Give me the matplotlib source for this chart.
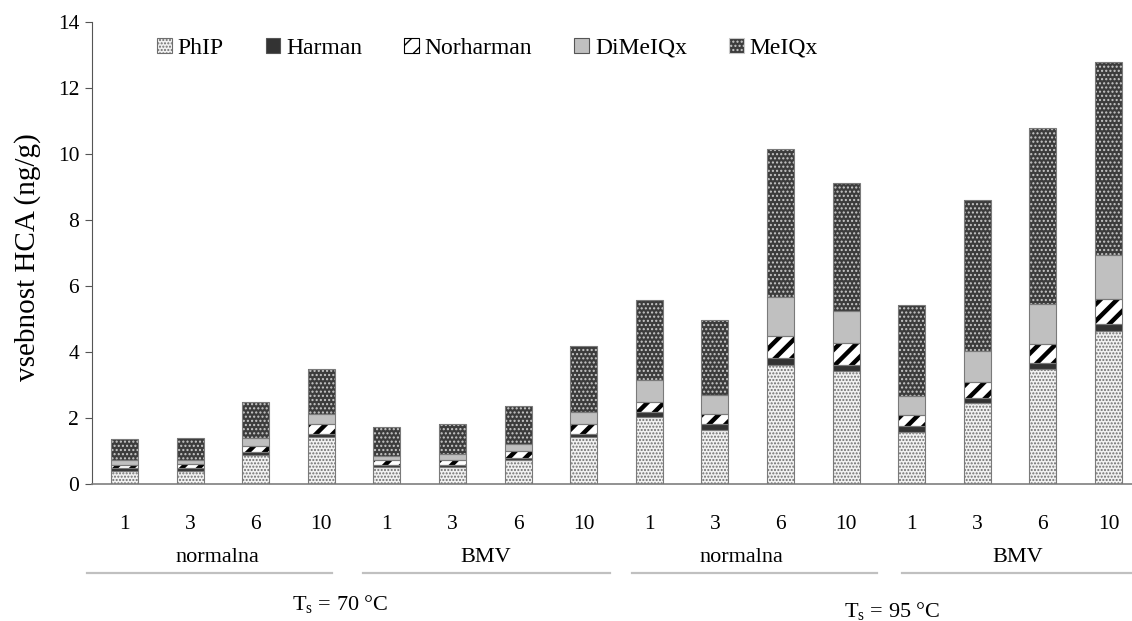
import matplotlib
matplotlib.use("Agg")
import matplotlib.pyplot as plt
import matplotlib.transforms as mtransforms
from matplotlib.patches import Rectangle
import numpy as np

# ---------------- data ----------------
time_labels = ["1", "3", "6", "10"] * 4
groups = ["normalna", "BMV", "normalna", "BMV"]
temps = ["T$_\\mathrm{s}$ = 70 °C", "T$_\\mathrm{s}$ = 95 °C"]
series_names = ["PhIP", "Harman", "Norharman", "DiMeIQx", "MeIQx"]

PhIP = [0.40, 0.40, 0.87, 1.42, 0.52, 0.52, 0.72, 1.42,
        2.02, 1.65, 3.62, 3.42, 1.59, 2.44, 3.48, 4.64]
Harman = [0.09, 0.09, 0.09, 0.09, 0.07, 0.05, 0.08, 0.10,
          0.15, 0.17, 0.20, 0.20, 0.17, 0.18, 0.20, 0.22]
Norharman = [0.10, 0.11, 0.19, 0.31, 0.13, 0.15, 0.19, 0.30,
             0.33, 0.30, 0.68, 0.64, 0.34, 0.47, 0.57, 0.74]
DiMeIQx = [0.13, 0.14, 0.25, 0.30, 0.13, 0.19, 0.23, 0.35,
           0.65, 0.57, 1.16, 0.97, 0.57, 0.94, 1.19, 1.34]
MeIQx = [0.65, 0.66, 1.09, 1.35, 0.88, 0.91, 1.14, 2.02,
         2.42, 2.27, 4.50, 3.90, 2.75, 4.57, 5.36, 5.86]

series = [PhIP, Harman, Norharman, DiMeIQx, MeIQx]

# ---------------- style ----------------
styles = [
    dict(face="#f2f2f2", hatch=".....", hcolor="#6e6e6e", hlw=1.0),
    dict(face="#333333", hatch=None, hcolor="#333333", hlw=1.0),
    dict(face="#ffffff", hatch="//", hcolor="#000000", hlw=3.2),
    dict(face="#c0c0c0", hatch=None, hcolor="#c0c0c0", hlw=1.0),
    dict(face="#3c3c3c", hatch="....", hcolor="#c8c8c8", hlw=1.0),
]

plt.rcParams["font.family"] = ["Liberation Serif", "DejaVu Serif"]
plt.rcParams["mathtext.fontset"] = "custom"
plt.rcParams["mathtext.rm"] = "Liberation Serif"
plt.rcParams["mathtext.it"] = "Liberation Serif:italic"

W, H = 1132, 621
fig = plt.figure(figsize=(W / 100, H / 100), dpi=100)

slot = 65.6
x0_px = 124.5 - slot / 2
zero_px = 484.0
top_px = 22.0
ax = fig.add_axes([x0_px / W, 1 - zero_px / H, 16 * slot / W, (zero_px - top_px) / H])

x = np.arange(len(PhIP))
width = 0.41
bottom = np.zeros(len(x))
for vals, st in zip(series, styles):
    vals = np.array(vals)
    plt.rcParams["hatch.linewidth"] = st["hlw"]
    bars = ax.bar(x, vals, width, bottom=bottom, color=st["face"],
                  edgecolor=st["hcolor"], linewidth=0, hatch=st["hatch"], zorder=2)
    for b in bars:
        if hasattr(b, "set_hatch_linewidth"):
            b.set_hatch_linewidth(st["hlw"])
    ax.bar(x, vals, width, bottom=bottom, fill=False, edgecolor="#7a7a7a",
           linewidth=0.8, zorder=3)
    bottom += vals

ax.set_xlim(-0.5, 15.5)
ax.set_ylim(0, 14)
ax.set_yticks(np.arange(0, 15, 2))
ax.tick_params(axis="y", direction="out", length=5, width=0.8, colors="#555555",
               labelcolor="black", labelsize=15.5, pad=4)
ax.set_xticks([])
for s in ["top", "right"]:
    ax.spines[s].set_visible(False)
ax.spines["left"].set_color("#555555")
ax.spines["bottom"].set_color("#7f7f7f")
ax.spines["bottom"].set_linewidth(1.2)

ax.set_ylabel("vsebnost HCA (ng/g)", fontsize=21, va="center")
ax.yaxis.set_label_coords((28 - x0_px) / (16 * slot), (zero_px - 257) / (zero_px - top_px))

# x tick labels and group labels
bt = mtransforms.blended_transform_factory(ax.transData, fig.transFigure)
def fy(py):
    return 1 - py / H

for xi, lab in zip(x, time_labels):
    ax.text(xi, fy(529), lab, transform=bt, ha="center", va="baseline", fontsize=15.5)

group_label_x = [1.42, 5.51, 9.40, 13.62]
for gx, g in zip(group_label_x, groups):
    ax.text(gx, fy(562), g, transform=bt, ha="center", va="baseline", fontsize=16)

group_lines_px = [(87, 332), (363, 610), (632, 877), (902, 1160)]
for a, b in group_lines_px:
    fig.add_artist(plt.Line2D([a / W, b / W], [fy(573), fy(573)], color="#c0c0c0",
                              linewidth=1.6, transform=fig.transFigure))

temp_pos_px = [(340, 610), (892, 617)]
for (px, py), t in zip(temp_pos_px, temps):
    fig.text(px / W, fy(py), t, ha="center", va="baseline", fontsize=16)

# legend
handles = []
for name, st in zip(series_names, styles):
    plt.rcParams["hatch.linewidth"] = min(st["hlw"], 2.0)
    r = Rectangle((0, 0), 1, 1, facecolor=st["face"], edgecolor=st["hcolor"] if st["hatch"] else "#555555",
                  hatch=st["hatch"], linewidth=0.8)
    handles.append(r)
leg = fig.legend(handles, series_names, loc="center left",
                 bbox_to_anchor=(157 / W, fy(48)), ncol=5, frameon=False,
                 fontsize=17, handlelength=0.62, handleheight=0.62,
                 handletextpad=0.25, columnspacing=1.78, borderpad=0, borderaxespad=0)

fig.savefig("out.png", dpi=100)
